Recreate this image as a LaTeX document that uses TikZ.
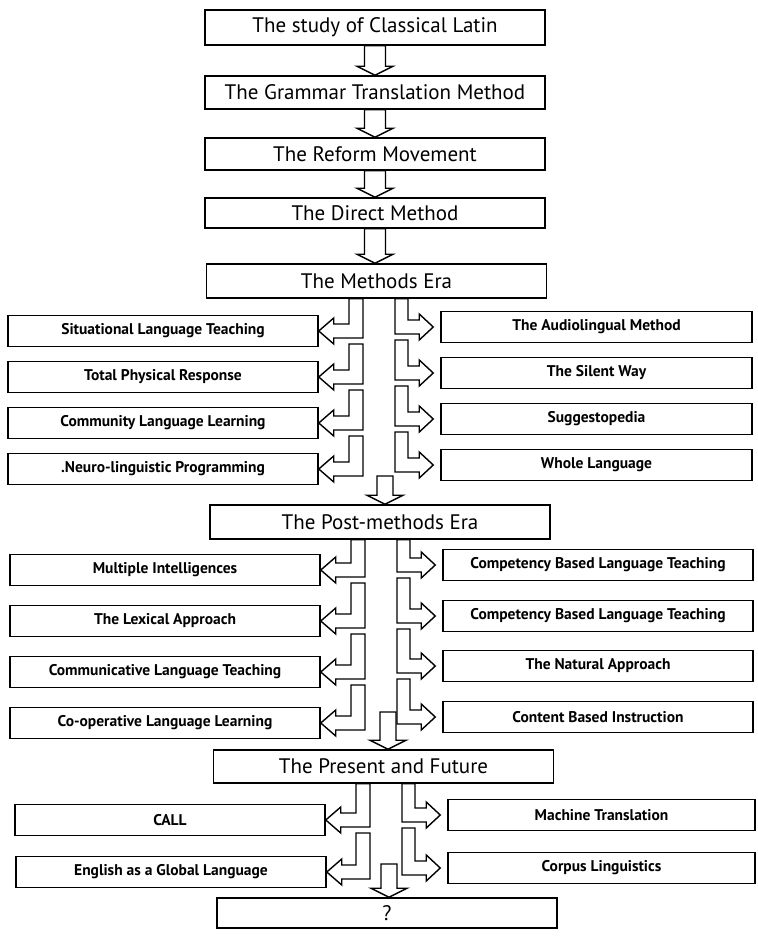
\documentclass[tikz,border=0pt]{standalone}
\usepackage{fontspec}
\setmainfont{PT Sans}
\usetikzlibrary{calc}

\tikzset{
  mainbox/.style={draw, line width=1.5pt, minimum width=340pt, minimum height=33pt,
    inner sep=0pt, font=\fontsize{21}{24}\selectfont},
  sidebox/.style={draw, line width=1.5pt, minimum width=310pt, minimum height=31pt,
    inner sep=0pt, font=\bfseries\fontsize{15.5}{17}\selectfont},
  blk/.style={draw, line width=1.4pt, fill=white, line join=miter},
}

% straight block arrow: #1 top point, #2 point giving the x of the axis,
% #3 target node, #4 half width of the shaft
\newcommand\downblock[4]{%
  \draw[blk] let \p1=(#1), \p2=(#2), \p3=(#3.north) in
    (\x2-#4pt,\y1) -- (\x2-#4pt,\y3+9pt) -- (\x2-18pt,\y3+9pt) -- (\x2,\y3)
    -- (\x2+18pt,\y3+9pt) -- (\x2+#4pt,\y3+9pt) -- (\x2+#4pt,\y1) -- cycle;}

% bent block arrow turning left into a box: #1 top point, #2 column axis, #3 target
\newcommand\leftbent[3]{%
  \draw[blk] let \p1=(#1), \p2=(#2), \p3=(#3.east) in
    (\x2-16pt,\y1) -- (\x2-16pt,\y3-7pt) -- (\x3+15pt,\y3-7pt) -- (\x3+15pt,\y3-13pt)
    -- (\x3,\y3) -- (\x3+15pt,\y3+13pt) -- (\x3+15pt,\y3+7pt) -- (\x2-30pt,\y3+7pt)
    -- (\x2-30pt,\y1) -- cycle;}

% bent block arrow turning right into a box: #1 top point, #2 column axis, #3 target
\newcommand\rightbent[3]{%
  \draw[blk] let \p1=(#1), \p2=(#2), \p3=(#3.west) in
    (\x2+16pt,\y1) -- (\x2+16pt,\y3-7pt) -- (\x3-21pt,\y3-7pt) -- (\x3-21pt,\y3-13pt)
    -- (\x3-7pt,\y3) -- (\x3-21pt,\y3+13pt) -- (\x3-21pt,\y3+7pt) -- (\x2+29pt,\y3+7pt)
    -- (\x2+29pt,\y1) -- cycle;}

\begin{document}
\begin{tikzpicture}[x=1pt, y=-1pt]
\useasboundingbox[fill=white] (0,0) rectangle (757,936);

% ---- main line ----
\node[mainbox, minimum height=35pt] (latin)   at (375,27.5) {The study of Classical Latin};
\node[mainbox] (grammar) at (375,92.5)  {The Grammar Translation Method};
\node[mainbox, minimum height=32pt] (reform)  at (375,154)   {The Reform Movement};
\node[mainbox, minimum height=30pt] (direct)  at (375,213)   {The Direct Method};
\node[mainbox, minimum height=34pt] (methods) at (376.5,281) {The Methods Era};
\node[mainbox, minimum height=34pt] (post)    at (380,522)   {The Post-methods Era};
\node[mainbox] (present) at (383.5,766.5) {The Present and Future};
\node[mainbox, minimum height=30pt] (future)  at (387,913)   {?};

\downblock{latin.south}{latin.south}{grammar}{10.5}
\downblock{grammar.south}{grammar.south}{reform}{10.5}
\downblock{reform.south}{reform.south}{direct}{10.5}
\downblock{direct.south}{direct.south}{methods}{10.5}

% ---- the methods era ----
\coordinate (mcol) at (379,0);
\node[sidebox] (slt) at (163,331) {Situational Language Teaching};
\node[sidebox] (tpr) at (163,377) {Total Physical Response};
\node[sidebox] (cll) at (163,423) {Community Language Learning};
\node[sidebox] (nlp) at (163,469) {.Neuro-linguistic Programming};
\node[sidebox, minimum width=311pt] (alm) at (596.5,327) {The Audiolingual Method};
\node[sidebox, minimum width=311pt] (sw)  at (596.5,373) {The Silent Way};
\node[sidebox, minimum width=311pt] (sug) at (596.5,419) {Suggestopedia};
\node[sidebox, minimum width=311pt] (wl)  at (596.5,465) {Whole Language};

\leftbent{methods.south}{mcol}{slt}
\leftbent{$(slt.east)+(0,13)$}{mcol}{tpr}
\leftbent{$(tpr.east)+(0,13)$}{mcol}{cll}
\leftbent{$(cll.east)+(0,13)$}{mcol}{nlp}
\rightbent{methods.south}{mcol}{alm}
\rightbent{$(alm.west)+(0,13)$}{mcol}{sw}
\rightbent{$(sw.west)+(0,13)$}{mcol}{sug}
\rightbent{$(sug.west)+(0,13)$}{mcol}{wl}

\coordinate (mdrop) at (385,476);
\downblock{mdrop}{mdrop}{post}{8}

% ---- the post-methods era ----
\coordinate (pcol) at (381,0);
\node[sidebox] (mi)  at (165,570) {Multiple Intelligences};
\node[sidebox] (lex) at (165,621) {The Lexical Approach};
\node[sidebox] (clt) at (165,672) {Communicative Language Teaching};
\node[sidebox] (coop) at (165,723) {Co-operative Language Learning};
\node[sidebox] (cblt) at (598,565) {Competency Based Language Teaching};
\node[sidebox] (cblt2) at (598,616) {Competency Based Language Teaching};
\node[sidebox] (nat) at (598,666) {The Natural Approach};
\node[sidebox] (cbi) at (598,717) {Content Based Instruction};

\leftbent{post.south}{pcol}{mi}
\leftbent{$(mi.east)+(0,13)$}{pcol}{lex}
\leftbent{$(lex.east)+(0,13)$}{pcol}{clt}
\leftbent{$(clt.east)+(0,13)$}{pcol}{coop}
\rightbent{post.south}{pcol}{cblt}
\rightbent{$(cblt.west)+(0,13)$}{pcol}{cblt2}
\rightbent{$(cblt2.west)+(0,13)$}{pcol}{nat}
\rightbent{$(nat.west)+(0,13)$}{pcol}{cbi}

\coordinate (pdrop) at (388,712);
\downblock{pdrop}{pdrop}{present}{8}

% ---- the present and future ----
\coordinate (fcol) at (386,0);
\node[sidebox] (call) at (170,820) {CALL};
\node[sidebox] (egl)  at (171,872) {English as a Global Language};
\node[sidebox, minimum width=307pt] (mt)  at (601.5,815) {Machine Translation};
\node[sidebox, minimum width=307pt] (cl)  at (601.5,868) {Corpus Linguistics};

\leftbent{present.south}{fcol}{call}
\leftbent{$(call.east)+(0,13)$}{fcol}{egl}
\rightbent{present.south}{fcol}{mt}
\rightbent{$(mt.west)+(0,13)$}{fcol}{cl}

\coordinate (fdrop) at (389,864);
\downblock{fdrop}{fdrop}{future}{8}
\end{tikzpicture}
\end{document}
